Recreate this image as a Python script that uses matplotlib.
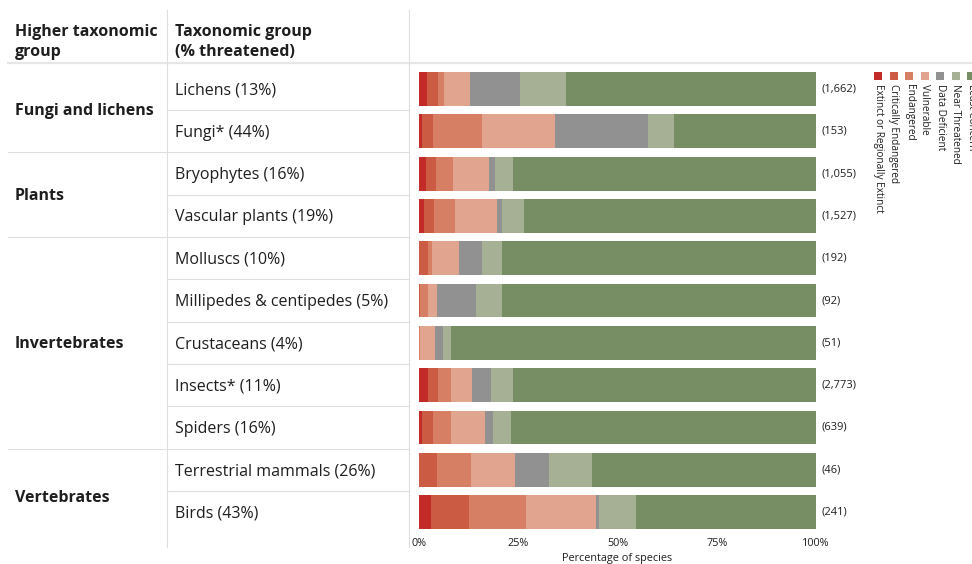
import matplotlib
matplotlib.use("Agg")
import matplotlib.pyplot as plt
from matplotlib.lines import Line2D
from matplotlib.patches import Rectangle
from matplotlib.transforms import blended_transform_factory

plt.rcParams['font.family'] = ['Open Sans', 'Noto Sans', 'DejaVu Sans']

# ---------------- data ----------------
higher_groups = ["Fungi and lichens", "Plants", "Invertebrates", "Vertebrates"]
group_rows = [(0, 1), (2, 3), (4, 8), (9, 10)]
taxa = ["Lichens (13%)", "Fungi* (44%)", "Bryophytes (16%)", "Vascular plants (19%)",
        "Molluscs (10%)", "Millipedes & centipedes (5%)", "Crustaceans (4%)",
        "Insects* (11%)", "Spiders (16%)", "Terrestrial mammals (26%)", "Birds (43%)"]
counts = ["(1,662)", "(153)", "(1,055)", "(1,527)", "(192)", "(92)", "(51)",
          "(2,773)", "(639)", "(46)", "(241)"]

categories = ["Extinct or Regionally Extinct", "Critically Endangered", "Endangered",
              "Vulnerable", "Data Deficient", "Near Threatened", "Least Concern"]
extinct   = [2.0, 0.8, 1.8, 1.3, 0.0, 0.0, 0.0, 2.3, 0.7, 0.0, 3.0]
critical  = [2.8, 2.8, 2.5, 2.5, 2.3, 0.2, 0.0, 2.5, 2.8, 4.5, 9.6]
endangered= [1.5, 12.3, 4.3, 5.3, 1.0, 2.1, 0.3, 3.3, 4.5, 8.6, 14.4]
vulnerable= [6.5, 18.4, 9.1, 10.6, 6.8, 2.3, 3.8, 5.3, 8.6, 11.1, 17.6]
data_def  = [12.6, 23.4, 1.5, 1.3, 5.8, 9.8, 2.0, 4.8, 2.0, 8.6, 0.8]
near_thr  = [11.6, 6.5, 4.5, 5.5, 5.0, 6.5, 2.0, 5.5, 4.5, 10.8, 9.3]
least     = [63.0, 35.8, 76.3, 73.5, 79.1, 79.1, 91.9, 76.3, 76.8, 56.4, 45.3]
series = [extinct, critical, endangered, vulnerable, data_def, near_thr, least]
colors = ["#c22b27", "#cc5b43", "#d67f64", "#e0a48f", "#919191", "#a6b095", "#778d63"]

# ---------------- layout ----------------
W, H = 972, 564
TXT = "#1e1e1e"
GRID = "#dedede"
FS = 11.5
fig = plt.figure(figsize=(W / 100, H / 100), dpi=100)
fig.patch.set_facecolor("white")

def fx(px):
    return px / W

def fy(py):
    return 1 - py / H

top_px, bot_px = 67.85, 533.2
ax = fig.add_axes([fx(419), fy(bot_px), fx(816) - fx(419), fy(top_px) - fy(bot_px)])
ax.set_xlim(0, 100)
ax.set_ylim(len(taxa) - 0.5, -0.5)

ypos = list(range(len(taxa)))
left = [0.0] * len(taxa)
for vals, c in zip(series, colors):
    ax.barh(ypos, vals, left=left, height=0.8, color=c, linewidth=0)
    left = [l + v for l, v in zip(left, vals)]

for y, lab in zip(ypos, counts):
    ax.annotate(lab, xy=(100, y), xytext=(3.8, 0), textcoords="offset points",
                ha="left", va="center", fontsize=8.0, color=TXT)

for s in ax.spines.values():
    s.set_visible(False)
ax.set_yticks([])
ax.set_xticks([0, 25, 50, 75, 100])
ax.set_xticklabels(["0%", "25%", "50%", "75%", "100%"])
ax.tick_params(axis="x", length=0, pad=3.5, labelsize=7.8, labelcolor=TXT)
ax.set_xlabel("Percentage of species", fontsize=7.8, color=TXT, labelpad=3)

# ---------------- table ----------------
bt = blended_transform_factory(fig.transFigure, ax.transData)
lw = 0.8

# header text
fig.text(fx(15), fy(35.5), "Higher taxonomic", fontsize=FS, fontweight="bold", color=TXT, va="baseline")
fig.text(fx(15), fy(55.5), "group", fontsize=FS, fontweight="bold", color=TXT, va="baseline")
fig.text(fx(175), fy(35.5), "Taxonomic group", fontsize=FS, fontweight="bold", color=TXT, va="baseline")
fig.text(fx(175), fy(55.5), "(% threatened)", fontsize=FS, fontweight="bold", color=TXT, va="baseline")

# header line
fig.add_artist(Line2D([fx(8), fx(972)], [fy(62.5), fy(62.5)], transform=fig.transFigure,
                      color="#e6e6e6", lw=1.6))
# vertical lines
for xp in (167, 409):
    fig.add_artist(Line2D([fx(xp), fx(xp)], [fy(10), fy(547)], transform=fig.transFigure,
                          color=GRID, lw=lw))

for y, lab in zip(ypos, taxa):
    ax.text(fx(175), y + 0.03, lab, transform=bt, fontsize=FS, color=TXT, ha="left", va="center")

group_starts = [a for a, b in group_rows]
for i in range(len(taxa) - 1):
    yb = i + 0.5
    x0 = 8 if (i + 1) in group_starts else 167
    ax.plot([fx(x0), fx(409)], [yb, yb], transform=bt, color=GRID, lw=lw, clip_on=False)

for (a, b), g in zip(group_rows, higher_groups):
    yc = (a + b) / 2 + 0.03
    if g == "Vertebrates":
        yc = a + 0.66
    ax.text(fx(15), yc, g, transform=bt, fontsize=FS, fontweight="bold", color=TXT,
            ha="left", va="center")

# ---------------- legend ----------------
leg_x = [878, 893.5, 909, 924.5, 940, 955.5, 971]
for xc, c, lab in zip(leg_x, colors, categories):
    fig.add_artist(Rectangle((fx(xc - 4), fy(80)), 8 / W, 8 / H, transform=fig.transFigure,
                             color=c, lw=0))
    fig.text(fx(xc), fy(84), lab, rotation=270, ha="center", va="top", fontsize=7.2, color=TXT)

fig.savefig("out.png", dpi=100, facecolor="white")
